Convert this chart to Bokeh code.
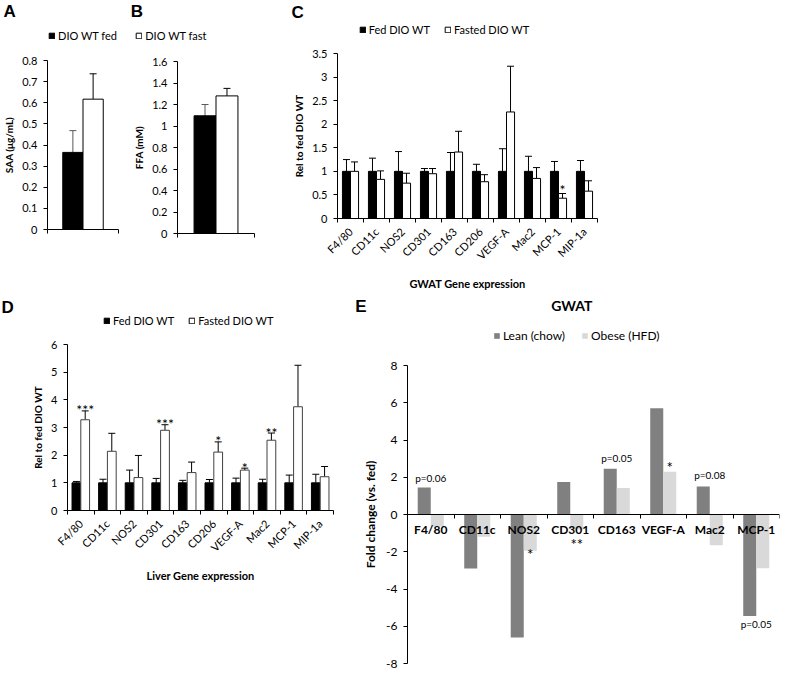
import math
from bokeh.plotting import figure
from bokeh.models import (ColumnDataSource, Range1d, LinearAxis, FixedTicker,
                          NumeralTickFormatter, Whisker, TeeHead, Legend, LegendItem, Label)
from bokeh.layouts import row, column
from bokeh.embed import file_html
from bokeh.resources import INLINE
from bokeh.core.properties import value

# ------------------------------------------------------------------ data
A_labels = ["DIO WT fed", "DIO WT fast"]
A_mean = [0.365, 0.617]
A_err = [0.103, 0.120]
A_yticks = [0, 0.1, 0.2, 0.3, 0.4, 0.5, 0.6, 0.7, 0.8]
A_ylabel = "SAA (μg/mL)"

B_labels = ["DIO WT fed", "DIO WT fast"]
B_mean = [1.095, 1.280]
B_err = [0.105, 0.070]
B_yticks = [0, 0.2, 0.4, 0.6, 0.8, 1.0, 1.2, 1.4, 1.6]
B_ylabel = "FFA (mM)"

genes = ["F4/80", "CD11c", "NOS2", "CD301", "CD163", "CD206", "VEGF-A", "Mac2", "MCP-1", "MIP-1a"]
CD_series = ["Fed DIO WT", "Fasted DIO WT"]

C_fed = [1.0, 1.0, 1.0, 1.0, 1.0, 1.0, 1.0, 1.0, 1.0, 1.0]
C_fed_err = [0.25, 0.28, 0.42, 0.06, 0.40, 0.15, 0.48, 0.32, 0.21, 0.23]
C_fast = [1.00, 0.83, 0.75, 0.95, 1.41, 0.78, 2.26, 0.85, 0.43, 0.58]
C_fast_err = [0.20, 0.18, 0.21, 0.11, 0.44, 0.15, 0.97, 0.23, 0.10, 0.22]
C_stars = ["", "", "", "", "", "", "", "", "*", ""]
C_yticks = [0, 0.5, 1, 1.5, 2, 2.5, 3, 3.5]
C_ylabel = "Rel to fed DIO WT"
C_xlabel = "GWAT Gene expression"

D_fed = [1.0, 1.0, 1.0, 1.0, 1.0, 1.0, 1.0, 1.0, 1.0, 1.0]
D_fed_err = [0.05, 0.13, 0.46, 0.16, 0.09, 0.12, 0.17, 0.13, 0.28, 0.31]
D_fast = [3.28, 2.14, 1.19, 2.90, 1.37, 2.11, 1.46, 2.54, 3.75, 1.22]
D_fast_err = [0.32, 0.65, 0.80, 0.20, 0.38, 0.37, 0.07, 0.26, 1.50, 0.37]
D_stars = ["***", "", "", "***", "", "*", "*", "**", "", ""]
D_yticks = [0, 1, 2, 3, 4, 5, 6]
D_ylabel = "Rel to fed DIO WT"
D_xlabel = "Liver Gene expression"

E_genes = ["F4/80", "CD11c", "NOS2", "CD301", "CD163", "VEGF-A", "Mac2", "MCP-1"]
E_series = ["Lean (chow)", "Obese (HFD)"]
E_lean = [1.45, -2.90, -6.60, 1.75, 2.45, 5.70, 1.50, -5.45]
E_obese = [-0.65, -1.20, -1.95, -0.80, 1.42, 2.30, -1.65, -2.88]
E_yticks = [-8, -6, -4, -2, 0, 2, 4, 6, 8]
E_title = "GWAT"
E_ylabel = "Fold change (vs. fed)"
E_note_text = ["p=0.06", "p=0.05", "p=0.08", "p=0.05", "*", "*", "**"]
E_note_gene = [0, 4, 6, 7, 5, 2, 3]
E_note_series = [-1, -1, -1, -1, 1, 1, 1]   # -1: centred on category, 1: obese bar
E_note_y = [1.97, 3.02, 2.12, -5.90, 2.81, -1.86, -1.34]

panel_letters = ["A", "B", "C", "D", "E"]

# ------------------------------------------------------------------ layout helpers
SX = 781 / 797
SY = 670 / 678
FONT = "Lato"
HEAD_FONT = "Liberation Sans"
INK = "#000000"
LEAN_C = "#808080"
OBESE_C = "#d9d9d9"


def X(v):
    return int(round(v * SX))


def Y(v):
    return int(round(v * SY))


def make_fig(fig_box, frame_box, x_range, y_range):
    x0, y0, x1, y1 = fig_box
    fx0, fy0, fx1, fy1 = frame_box
    p = figure(frame_width=X(fx1) - X(fx0), frame_height=Y(fy1) - Y(fy0),
               x_range=x_range, y_range=y_range,
               x_axis_type=None, y_axis_type=None,
               toolbar_location=None, output_backend="svg",
               min_border_left=X(fx0) - X(x0), min_border_right=X(x1) - X(fx1),
               min_border_top=Y(fy0) - Y(y0), min_border_bottom=Y(y1) - Y(fy1))
    p.frame_align = False
    p.outline_line_color = None
    p.background_fill_color = "white"
    p.border_fill_color = "white"
    return p


def make_header(box):
    return make_fig(box, box, Range1d(0, 1), Range1d(0, 1))


def head_label(h, box, xr, yr, text, size, bold=False, font=FONT, align="left"):
    x0, y0, x1, y1 = box
    h.add_layout(Label(x=xr * SX - X(x0), y=Y(y1) - yr * SY, x_units="screen", y_units="screen",
                       text=text, text_font=font, text_font_size=size,
                       text_font_style="bold" if bold else "normal",
                       text_align=align, text_baseline="middle", text_color=INK))


def head_legend(h, box, entries, xr, yr, size="11px", spacing=14):
    x0, y0, x1, y1 = box
    items = []
    for lab, fill, line in entries:
        # hidden legend proxy carrying the series style
        r = h.vbar(x=[0.5], top=[0.5], width=0.1, fill_color=fill, line_color=line)
        r.visible = False
        items.append(LegendItem(label=lab, renderers=[r]))
    leg = Legend(items=items, location=(xr * SX - X(x0), Y(y1) - yr * SY - 6.5),
                 orientation="horizontal", glyph_width=7, glyph_height=7,
                 label_standoff=3, label_height=13, padding=0, margin=0, spacing=spacing,
                 border_line_color=None, background_fill_alpha=0,
                 inactive_fill_alpha=0,
                 label_text_font=FONT, label_text_font_size=size, label_text_color=INK)
    h.add_layout(leg)


def add_yaxis(p, ticks, label, lab_size="11px", title_size="10px", fmt="0.[0]", standoff=4):
    ax = LinearAxis(ticker=FixedTicker(ticks=ticks), formatter=NumeralTickFormatter(format=fmt),
                    axis_label=label)
    ax.axis_line_color = INK
    ax.major_tick_line_color = INK
    ax.major_tick_out = 4
    ax.major_tick_in = 0
    ax.minor_tick_line_color = None
    ax.major_label_standoff = 6
    ax.major_label_text_font = FONT
    ax.major_label_text_font_size = lab_size
    ax.major_label_text_color = INK
    ax.axis_label_text_font = FONT
    ax.axis_label_text_font_style = "bold"
    ax.axis_label_text_font_size = title_size
    ax.axis_label_text_color = INK
    ax.axis_label_standoff = standoff
    p.add_layout(ax, "left")


def add_bound_xaxis(p, n, side="below", names=None, label=None, fixed=None):
    centers = [i + 0.5 for i in range(n)] if names else []
    ax = LinearAxis(ticker=FixedTicker(ticks=centers, minor_ticks=list(range(n + 1))))
    if names:
        ax.major_label_overrides = {c: nm for c, nm in zip(centers, names)}
        ax.major_label_orientation = math.pi / 4
        ax.major_label_text_font = FONT
        ax.major_label_text_font_size = "11px"
        ax.major_label_text_color = INK
        ax.major_label_standoff = 7
    if label:
        ax.axis_label = label
        ax.axis_label_text_font = FONT
        ax.axis_label_text_font_style = "bold"
        ax.axis_label_text_font_size = "11px"
        ax.axis_label_text_color = INK
        ax.axis_label_standoff = 8
    if fixed is not None:
        ax.fixed_location = fixed
    ax.axis_line_color = INK
    ax.major_tick_line_color = None
    ax.major_tick_out = 0
    ax.major_tick_in = 0
    ax.minor_tick_line_color = INK
    if side == "below":
        ax.minor_tick_out = 4
        ax.minor_tick_in = 0
    else:
        ax.minor_tick_out = 0
        ax.minor_tick_in = 4
    p.add_layout(ax, side)


# ------------------------------------------------------------------ panels A and B
def single_panel(fig_box, frame_box, means, errs, yticks, ylabel):
    p = make_fig(fig_box, frame_box, Range1d(0, 1), Range1d(yticks[0], yticks[-1]))
    w = 0.285
    xs = [0.5 - w / 2, 0.5 + w / 2]
    fills = ["black", "white"]
    errc = ["#595959", INK]
    for k in range(2):
        src = ColumnDataSource(dict(x=[xs[k]], top=[means[k]], up=[means[k] + errs[k]]))
        p.vbar(x="x", top="top", bottom=0, width=w, fill_color=fills[k],
               line_color=INK, line_width=1, source=src)
        p.add_layout(Whisker(source=src, base="x", lower="top", upper="up", dimension="height",
                             line_color=errc[k], line_width=1, lower_head=None,
                             upper_head=TeeHead(size=7, line_color=errc[k], line_width=1)))
    add_yaxis(p, yticks, ylabel)
    add_bound_xaxis(p, 1)
    return p


pA = single_panel((0, 45, 128, 295), (43, 61, 115, 232), A_mean, A_err, A_yticks, A_ylabel)
pB = single_panel((128, 45, 290, 295), (174, 62, 253, 236), B_mean, B_err, B_yticks, B_ylabel)


# ------------------------------------------------------------------ panels C and D
def gene_panel(fig_box, frame_box, fed, fed_err, fast, fast_err, stars, yticks, ylabel, xlabel,
               w, fast_line, star_off):
    n = len(genes)
    p = make_fig(fig_box, frame_box, Range1d(0, n), Range1d(yticks[0], yticks[-1]))
    xf = [i + 0.5 - w / 2 for i in range(n)]
    xs = [i + 0.5 + w / 2 for i in range(n)]
    s_fed = ColumnDataSource(dict(x=xf, top=fed, up=[a + b for a, b in zip(fed, fed_err)]))
    s_fast = ColumnDataSource(dict(x=xs, top=fast, up=[a + b for a, b in zip(fast, fast_err)],
                                   star=stars))
    p.vbar(x="x", top="top", bottom=0, width=w, fill_color="black", line_color=INK, source=s_fed)
    p.vbar(x="x", top="top", bottom=0, width=w, fill_color="white", line_color=fast_line,
           source=s_fast)
    for s in (s_fed, s_fast):
        p.add_layout(Whisker(source=s, base="x", lower="top", upper="up", dimension="height",
                             line_color=INK, line_width=1, lower_head=None,
                             upper_head=TeeHead(size=7, line_color=INK, line_width=1)))
    p.text(x="x", y="up", text="star", source=s_fast, text_font=value(FONT),
           text_font_size=value("14px"), text_align="center", text_baseline="alphabetic",
           y_offset=star_off, text_color=INK)
    add_yaxis(p, yticks, ylabel)
    add_bound_xaxis(p, n, names=genes, label=xlabel)
    return p


pC = gene_panel((290, 45, 797, 295), (337, 54, 602, 221), C_fed, C_fed_err, C_fast, C_fast_err,
                C_stars, C_yticks, C_ylabel, C_xlabel, 0.31, INK, -4)
pD = gene_panel((0, 338, 345, 678), (68, 347, 340, 515), D_fed, D_fed_err, D_fast, D_fast_err,
                D_stars, D_yticks, D_ylabel, D_xlabel, 0.33, "#404040", -1)

# ------------------------------------------------------------------ panel E
E_fig = (345, 350, 797, 678)
E_frame = (415, 368, 795, 670)
nE = len(E_genes)
pE = make_fig(E_fig, E_frame, Range1d(0, nE), Range1d(E_yticks[0], E_yticks[-1]))
wE = 0.28
s_lean = ColumnDataSource(dict(x=[i + 0.5 - wE / 2 for i in range(nE)], top=E_lean))
s_obese = ColumnDataSource(dict(x=[i + 0.5 + wE / 2 for i in range(nE)], top=E_obese))
pE.vbar(x="x", top="top", bottom=0, width=wE, fill_color=LEAN_C, line_color=None, source=s_lean)
pE.vbar(x="x", top="top", bottom=0, width=wE, fill_color=OBESE_C, line_color=None, source=s_obese)
add_yaxis(pE, E_yticks, E_ylabel, lab_size="12px", title_size="12px", fmt="0", standoff=5)
add_bound_xaxis(pE, nE, side="above", fixed=0)
s_names = ColumnDataSource(dict(x=[i + 0.5 for i in range(nE)], y=[0] * nE, t=E_genes))
pE.text(x="x", y="y", text="t", source=s_names, text_font=value(FONT),
        text_font_style="bold", text_font_size=value("12px"), text_align="center",
        text_baseline="middle", y_offset=15, text_color=INK)
note_x = [g + 0.5 + (wE / 2 if s == 1 else 0) for g, s in zip(E_note_gene, E_note_series)]
note_size = ["15px" if t.startswith("*") else "10px" for t in E_note_text]
note_off = [5 if t.startswith("*") else 0 for t in E_note_text]
s_notes = ColumnDataSource(dict(x=note_x, y=E_note_y, t=E_note_text, fs=note_size, yo=note_off))
pE.text(x="x", y="y", text="t", source=s_notes, text_font=value(FONT), text_font_size="fs",
        text_align="center", text_baseline="middle", y_offset="yo", text_color=INK)

# ------------------------------------------------------------------ headers (letters, legends)
top_box = (0, 0, 797, 45)
hTop = make_header(top_box)
head_label(hTop, top_box, 3, 11, panel_letters[0], "17px", bold=True, font=HEAD_FONT)
head_label(hTop, top_box, 133, 11, panel_letters[1], "17px", bold=True, font=HEAD_FONT)
head_label(hTop, top_box, 297, 12, panel_letters[2], "17px", bold=True, font=HEAD_FONT)
head_legend(hTop, top_box, [(A_labels[0], "black", INK)], 49, 36)
head_legend(hTop, top_box, [(B_labels[1], "white", INK)], 138, 36)
head_legend(hTop, top_box, [(CD_series[0], "black", INK), (CD_series[1], "white", INK)], 366, 30)

d_box = (0, 295, 345, 338)
hD = make_header(d_box)
head_label(hD, d_box, 1, 310, panel_letters[3], "17px", bold=True, font=HEAD_FONT)
head_legend(hD, d_box, [(CD_series[0], "black", INK), (CD_series[1], "white", INK)], 105, 323)

e_box = (345, 295, 797, 350)
hE = make_header(e_box)
head_label(hE, e_box, 362, 309, panel_letters[4], "17px", bold=True, font=HEAD_FONT)
head_label(hE, e_box, 583, 308, E_title, "14px", bold=True, align="center")
head_legend(hE, e_box, [(E_series[0], LEAN_C, None), (E_series[1], OBESE_C, None)], 503, 339,
            size="12px", spacing=16)

layout = column(column(hTop, row(pA, pB, pC)),
                row(column(hD, pD), column(hE, pE)))
open("out.html", "w").write(file_html(layout, INLINE))
